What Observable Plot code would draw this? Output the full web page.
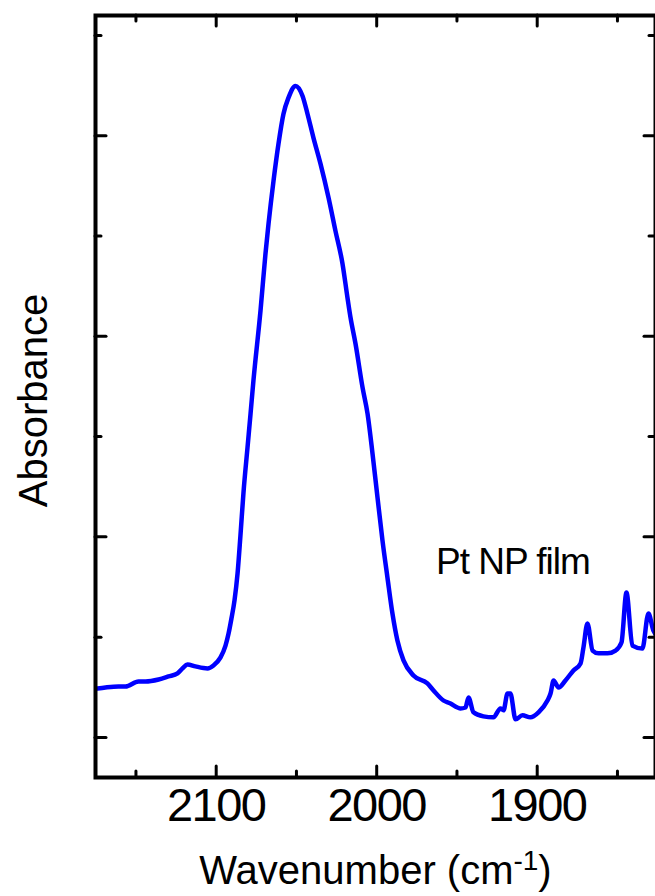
<!DOCTYPE html>
<html><head><meta charset="utf-8">
<script src="https://cdn.jsdelivr.net/npm/d3@7"></script>
<script src="https://cdn.jsdelivr.net/npm/@observablehq/plot@0.6"></script>
<style>body{margin:0;background:#fff} #chart svg{display:block}</style>
</head><body><div id="chart"></div>
<script>
// FTIR spectrum
const wavenumber = [2174.0,2169.0,2160.9,2156.5,2148.4,2144.0,2135.9,2129.7,2124.1,2121.0,2117.9,2112.9,2105.4,2101.7,2097.3,2094.2,2092.3,2090.5,2088.6,2086.7,2084.9,2083.0,2080.5,2078.6,2076.8,2072.4,2069.3,2067.4,2064.3,2061.2,2058.1,2055.0,2050.6,2046.2,2043.1,2039.4,2035.0,2030.0,2025.7,2021.3,2018.2,2016.3,2013.2,2008.8,2005.7,2002.6,1999.5,1996.4,1993.3,1990.2,1987.1,1983.3,1977.1,1968.4,1964.6,1958.4,1954.0,1949.7,1947.8,1944.7,1942.8,1939.7,1933.5,1927.3,1922.9,1921.0,1918.5,1916.7,1913.5,1909.2,1904.2,1899.2,1893.6,1891.7,1889.8,1886.7,1882.4,1877.4,1873.0,1871.2,1868.7,1865.5,1861.8,1856.2,1851.2,1847.5,1844.4,1840.7,1834.5,1830.7,1827.6,1826.3];
const absorbance = [0.0244,0.0249,0.0254,0.0254,0.0279,0.0279,0.0289,0.0304,0.0319,0.0344,0.0364,0.0354,0.0344,0.0359,0.0399,0.0458,0.0518,0.0593,0.0683,0.0817,0.1006,0.1221,0.1445,0.1614,0.1779,0.2128,0.2412,0.2561,0.2775,0.2960,0.3109,0.3189,0.3249,0.3199,0.3109,0.2990,0.2860,0.2691,0.2526,0.2362,0.2192,0.2093,0.1963,0.1744,0.1614,0.1415,0.1196,0.0982,0.0797,0.0618,0.0483,0.0384,0.0309,0.0269,0.0234,0.0184,0.0169,0.0149,0.0144,0.0149,0.0199,0.0125,0.0105,0.0100,0.0144,0.0135,0.0219,0.0219,0.0090,0.0110,0.0100,0.0125,0.0184,0.0219,0.0284,0.0249,0.0284,0.0334,0.0369,0.0448,0.0568,0.0433,0.0419,0.0419,0.0433,0.0473,0.0722,0.0458,0.0443,0.0618,0.0533,0.0515];
const xMajorTicks = [2100, 2000, 1900];
const xMinorTicks = [2150, 2050, 1950, 1850];
const yMajorTicks = [0, 0.1, 0.2, 0.3];
const yMinorTicks = [0.05, 0.15, 0.25, 0.35];
const xDomain = [2175.2, 1826.3];
const yDomain = [-0.02, 0.36];
const annotation = [{w: 1963, a: 0.0817, label: "Pt NP film"}];
const yTitle = "Absorbance";
const xTitleParts = ["Wavenumber (cm", "-1", ")"];

const data = wavenumber.map((w, i) => ({w, a: absorbance[i]}));
const W = 655, H = 896, mt = 15, mb = 119, ml = 95, mr = 0;
const plotW = W - ml - mr, plotH = H - mt - mb;
const majorLen = 11, minorLen = 6;
const tickStyle = {stroke: "#000", strokeWidth: 3, strokeLinecap: "round"};

const chart = Plot.plot({
  width: W, height: H,
  marginTop: mt, marginBottom: mb, marginLeft: ml, marginRight: mr,
  style: {fontFamily: "'Liberation Sans', Arial, sans-serif", background: "#fff", color: "#000", overflow: "visible"},
  x: {domain: xDomain, axis: null},
  y: {domain: yDomain, axis: null},
  marks: [
    Plot.line(data, {x: "w", y: "a", stroke: "#0000ff", strokeWidth: 4.5, curve: "monotone-x", strokeLinejoin: "round", strokeLinecap: "round"}),
    // bottom & top ticks (inside)
    Plot.ruleX(xMajorTicks, {...tickStyle, insetTop: plotH - majorLen}),
    Plot.ruleX(xMinorTicks, {...tickStyle, insetTop: plotH - minorLen}),
    Plot.ruleX(xMajorTicks, {...tickStyle, insetBottom: plotH - majorLen}),
    Plot.ruleX(xMinorTicks, {...tickStyle, insetBottom: plotH - minorLen}),
    // left & right ticks (inside)
    Plot.ruleY(yMajorTicks, {...tickStyle, insetRight: plotW - majorLen}),
    Plot.ruleY(yMinorTicks, {...tickStyle, insetRight: plotW - minorLen}),
    Plot.ruleY(yMajorTicks, {...tickStyle, insetLeft: plotW - majorLen}),
    Plot.ruleY(yMinorTicks, {...tickStyle, insetLeft: plotW - minorLen}),
    Plot.frame({stroke: "#000", strokeWidth: 4}),
    Plot.axisX(xMajorTicks, {anchor: "bottom", tickSize: 0, tickPadding: 10, fontSize: 47, tickFormat: d => String(d), label: null}),
    Plot.text(annotation, {x: "w", y: "a", text: "label", textAnchor: "start", lineAnchor: "bottom", fontSize: 37, fill: "#000"}),
    Plot.text([yTitle], {frameAnchor: "left", textAnchor: "middle", rotate: -90, dx: -61, dy: 4, fontSize: 40, lineAnchor: "middle", fill: "#000"}),
    Plot.text([xTitleParts.join("")], {frameAnchor: "bottom", dy: 106, lineAnchor: "bottom", fontSize: 40, fill: "#000"})
  ]
});
document.getElementById("chart").appendChild(chart);

const svg = d3.select(chart);
svg.selectAll('g[aria-label="x-axis tick label"] text').style("letter-spacing", "-1.5px");
svg.selectAll("text").filter(function() { return this.textContent === annotation[0].label; }).style("letter-spacing", "-1px");
svg.selectAll("text").filter(function() { return this.textContent === xTitleParts.join(""); }).each(function() {
  const t = d3.select(this);
  t.text(null);
  t.append("tspan").text(xTitleParts[0]);
  t.append("tspan").attr("dy", -14).attr("font-size", 28).text(xTitleParts[1]);
  t.append("tspan").attr("dy", 14).text(xTitleParts[2]);
});
</script>
</body></html>
